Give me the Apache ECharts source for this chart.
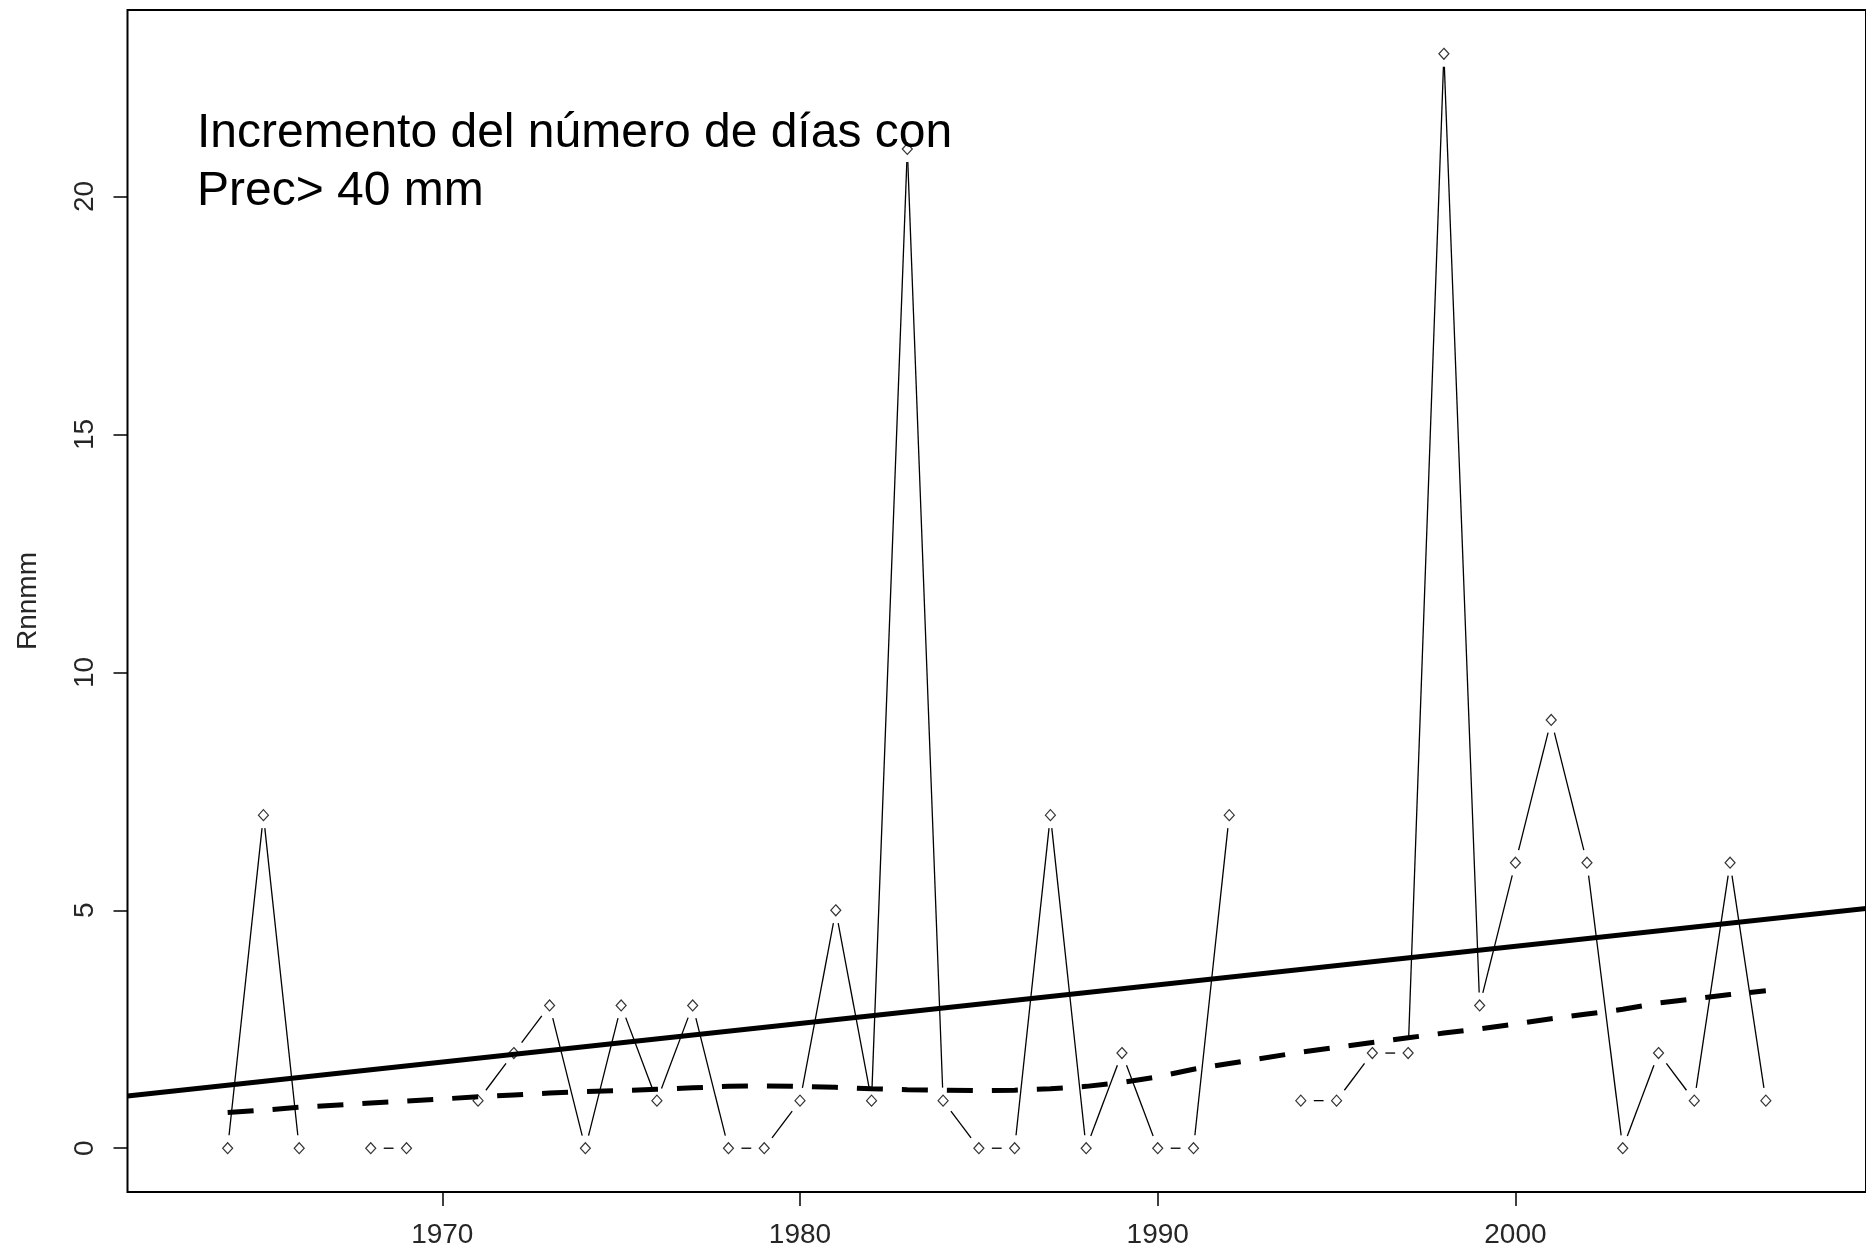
<!DOCTYPE html>
<html>
<head>
<meta charset="utf-8">
<script src="https://cdn.jsdelivr.net/npm/echarts@6/dist/echarts.min.js"></script>
<style>
  html, body { margin: 0; padding: 0; background: #fff; }
  #chart { width: 1866px; height: 1253px; }
</style>
</head>
<body>
<div id="chart"></div>
<script>
// Annual count of days with precipitation above 40 mm (Rnnmm index)
const years = [1964, 1965, 1966, 1967, 1968, 1969, 1970, 1971, 1972, 1973, 1974,
  1975, 1976, 1977, 1978, 1979, 1980, 1981, 1982, 1983, 1984, 1985, 1986,
  1987, 1988, 1989, 1990, 1991, 1992, 1993, 1994, 1995, 1996, 1997, 1998,
  1999, 2000, 2001, 2002, 2003, 2004, 2005, 2006, 2007];
const rnnmm = [0, 7, 0, null, 0, 0, null, 1, 2, 3, 0,
  3, 1, 3, 0, 0, 1, 5, 1, 21, 1, 0, 0,
  7, 0, 2, 0, 0, 7, null, 1, 1, 2, 2, 23,
  3, 6, 9, 6, 0, 2, 1, 6, 1];

// Locally weighted smooth, evaluated at the years that have data
const smoothYears = [1964, 1965, 1966, 1968, 1969, 1971, 1972, 1973, 1974,
  1975, 1976, 1977, 1978, 1979, 1980, 1981, 1982, 1983, 1984, 1985, 1986,
  1987, 1988, 1989, 1990, 1991, 1992, 1994, 1995, 1996, 1997, 1998,
  1999, 2000, 2001, 2002, 2003, 2004, 2005, 2006, 2007];
const smoothValues = [0.75, 0.80, 0.86, 0.95, 0.99, 1.08, 1.12, 1.16, 1.19,
  1.21, 1.24, 1.27, 1.30, 1.31, 1.30, 1.28, 1.25, 1.23, 1.22, 1.21, 1.22,
  1.25, 1.30, 1.38, 1.50, 1.66, 1.78, 2.02, 2.12, 2.22, 2.32, 2.42,
  2.51, 2.61, 2.72, 2.82, 2.92, 3.05, 3.14, 3.23, 3.31];

const xTicks = [1970, 1980, 1990, 2000];
const yTicks = [0, 5, 10, 15, 20];
const xRange = [1961.2, 2009.8];
const yRange = [-0.92, 23.92];

const noteLines = ['Incremento del número de días con', 'Prec> 40 mm'];
const yTitle = 'Rnnmm';

// Observed points (years with data)
const points = [];
years.forEach((y, i) => { if (rnnmm[i] !== null) points.push([y, rnnmm[i]]); });

// Consecutive pairs that are both present get a connecting segment
const segments = [];
for (let i = 0; i < years.length - 1; i++) {
  if (rnnmm[i] !== null && rnnmm[i + 1] !== null) {
    segments.push([years[i], rnnmm[i], years[i + 1], rnnmm[i + 1]]);
  }
}

// Least-squares linear trend over the observed years
const n = points.length;
const mx = points.reduce((s, p) => s + p[0], 0) / n;
const my = points.reduce((s, p) => s + p[1], 0) / n;
let sxy = 0, sxx = 0;
points.forEach(p => { sxy += (p[0] - mx) * (p[1] - my); sxx += (p[0] - mx) * (p[0] - mx); });
const slope = sxy / sxx;
const intercept = my - slope * mx;
const trend = xRange.map(x => [x, intercept + slope * x]);

const smooth = smoothYears.map((y, i) => [y, smoothValues[i]]);

const GAP = 13; // blank space left around each point on the connecting lines
const labelFont = { fontFamily: 'Liberation Sans, Arial, sans-serif', fontSize: 28, color: '#262626' };

const chart = echarts.init(document.getElementById('chart'), null, { renderer: 'canvas' });
chart.setOption({
  backgroundColor: '#fff',
  animation: false,
  grid: {
    left: 127.5, right: -6.5, top: 10, bottom: 61,
    show: true, borderColor: '#000', borderWidth: 2, backgroundColor: 'transparent'
  },
  xAxis: {
    type: 'value', min: xRange[0], max: xRange[1], position: 'bottom',
    axisLine: { show: false, onZero: false },
    splitLine: { show: false },
    axisTick: { show: true, customValues: xTicks, length: 14, lineStyle: { color: '#000', width: 1.5 } },
    axisLabel: Object.assign({ customValues: xTicks, margin: 29, formatter: v => String(v) }, labelFont)
  },
  yAxis: {
    type: 'value', min: yRange[0], max: yRange[1], position: 'left',
    name: yTitle, nameLocation: 'middle', nameGap: 85, nameRotate: 90,
    nameTextStyle: labelFont,
    axisLine: { show: false, onZero: false },
    splitLine: { show: false },
    axisTick: { show: true, customValues: yTicks, length: 14, lineStyle: { color: '#000', width: 1.5 } },
    axisLabel: Object.assign({ customValues: yTicks, rotate: 90, margin: 28, formatter: v => String(v) }, labelFont)
  },
  series: [
    {
      type: 'custom',
      coordinateSystem: 'cartesian2d',
      data: segments,
      encode: { x: [0, 2], y: [1, 3] },
      silent: true,
      renderItem: function (params, api) {
        const p0 = api.coord([api.value(0), api.value(1)]);
        const p1 = api.coord([api.value(2), api.value(3)]);
        const dx = p1[0] - p0[0], dy = p1[1] - p0[1];
        const len = Math.sqrt(dx * dx + dy * dy);
        if (len <= 2 * GAP) return null;
        const ux = dx / len, uy = dy / len;
        return {
          type: 'line',
          shape: {
            x1: p0[0] + ux * GAP, y1: p0[1] + uy * GAP,
            x2: p1[0] - ux * GAP, y2: p1[1] - uy * GAP
          },
          style: { stroke: '#000', lineWidth: 1.3 }
        };
      }
    },
    {
      type: 'scatter',
      data: points,
      symbol: 'diamond',
      symbolSize: [10, 11],
      itemStyle: { color: 'rgba(255,255,255,0)', borderColor: '#000', borderWidth: 1.2 },
      silent: true
    },
    {
      type: 'line',
      data: trend,
      showSymbol: false,
      lineStyle: { color: '#000', width: 5 },
      silent: true
    },
    {
      type: 'line',
      data: smooth,
      showSymbol: false,
      lineStyle: { color: '#000', width: 5, type: [26, 19], cap: 'butt' },
      silent: true
    }
  ],
  graphic: noteLines.map((t, i) => ({
    type: 'text',
    left: 197,
    top: 110 + i * 58,
    style: {
      text: t,
      font: '48px "Liberation Sans", Arial, sans-serif',
      fill: '#000'
    }
  }))
});
</script>
</body>
</html>
